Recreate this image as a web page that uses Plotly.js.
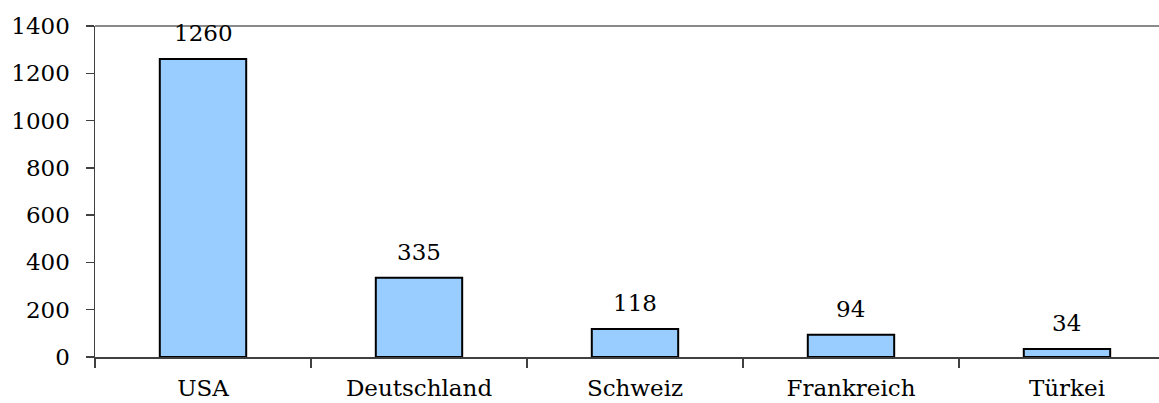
<!DOCTYPE html>
<html><head><meta charset="utf-8">
<script src="https://cdn.plot.ly/plotly-3.0.1.min.js"></script>
<style>html,body{margin:0;padding:0;background:#fff}</style>
</head><body><div id="chart" style="width:1159px;height:403px"></div>
<script>
const categories = ["USA", "Deutschland", "Schweiz", "Frankreich", "Türkei"];
const values = [1260, 335, 118, 94, 34];
const yTicks = [0, 200, 400, 600, 800, 1000, 1200, 1400];

const font = {family: "DejaVu Serif, serif", size: 23, color: "#000"};

const trace = {
  type: "bar",
  x: categories,
  y: values,
  width: 0.4,
  marker: {color: "#99CCFF", line: {color: "#000", width: 2}},
  hoverinfo: "none"
};

const annotations = categories.map((c, i) => ({
  x: c, y: values[i], text: String(values[i]),
  showarrow: false, yanchor: "bottom", yshift: 11,
  font: font
}));

const layout = {
  width: 1159, height: 403,
  margin: {l: 95, r: 0, t: 26, b: 46},
  paper_bgcolor: "#fff", plot_bgcolor: "#fff",
  font: font,
  showlegend: false,
  bargap: 0.6,
  xaxis: {
    range: [-0.5, 4.426],
    tickson: "boundaries",
    ticks: "outside", ticklen: 9, tickcolor: "#404040", tickwidth: 1.5,
    showline: true, linecolor: "#404040", linewidth: 1.5,
    showgrid: false, zeroline: false,
    ticklabelstandoff: 10,
    tickfont: font, fixedrange: true
  },
  yaxis: {
    range: [0, 1400],
    tickvals: yTicks,
    ticks: "outside", ticklen: 8, tickcolor: "#404040", tickwidth: 1.5,
    showline: true, linecolor: "#404040", linewidth: 1.5,
    showgrid: false, zeroline: false,
    ticklabelstandoff: 11,
    tickfont: font, fixedrange: true
  },
  shapes: [{
    type: "line", xref: "paper", yref: "paper",
    x0: 0, x1: 1, y0: 1, y1: 1,
    line: {color: "#8a8a8a", width: 2}, layer: "below"
  }],
  annotations: annotations
};

Plotly.newPlot("chart", [trace], layout, {displayModeBar: false, staticPlot: true});
</script></body></html>
